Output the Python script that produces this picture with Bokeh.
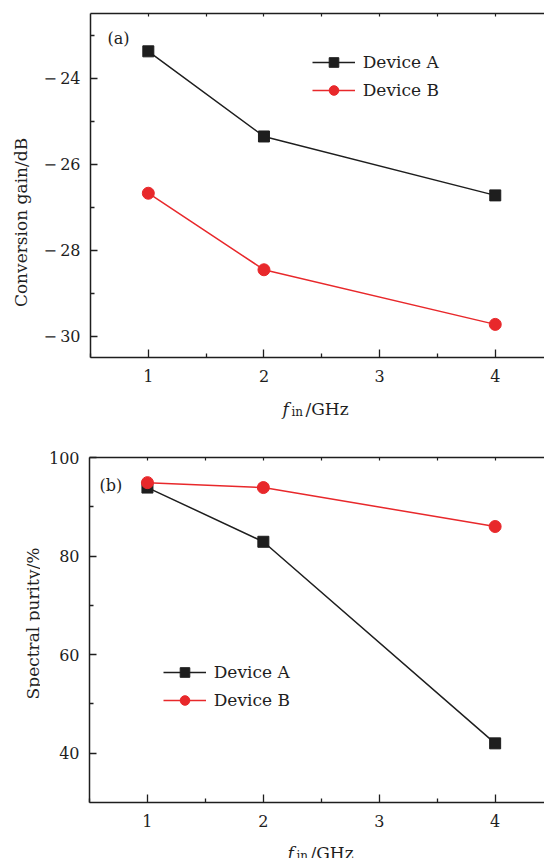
import math
from bokeh.plotting import figure
from bokeh.models import Range1d, FixedTicker, LinearAxis, Label, Legend, LegendItem
from bokeh.layouts import column, row
from bokeh.embed import file_html
from bokeh.resources import INLINE

# ---------------- data ----------------
freq_ghz = [1, 2, 4]
gain_a = [-23.38, -25.36, -26.73]
gain_b = [-26.68, -28.46, -29.73]
purity_a = [93.9, 82.9, 42.0]
purity_b = [94.9, 93.9, 86.0]
series_names = ["Device A", "Device B"]
x_ticks = [1, 2, 3, 4]
x_tick_labels = ["1", "2", "3", "4"]
gain_ticks = [-30, -28, -26, -24]
gain_tick_labels = ["\u2212\u200930", "\u2212\u200928", "\u2212\u200926", "\u2212\u200924"]
purity_ticks = [40, 60, 80, 100]
purity_tick_labels = ["40", "60", "80", "100"]
panel_tags = ["(a)", "(b)"]
y_titles = ["Conversion gain/dB", "Spectral purity/%"]
x_title_parts = ["f", "in", "/GHz"]

# ---------------- style ----------------
FONT = "DejaVu Serif"
INK = "#1e1e1e"
RED = "#e8282b"
W = 544
STRIP = 40           # width of the strip that carries the y title
LEFT = 89            # x pixel of the left spine
FRAME_W = W - LEFT
PX_PER_X = 115.9
X0 = 0.5
X1 = X0 + FRAME_W / PX_PER_X


def make_panel(height, top, frame_h, y0, y1, yticks, yminor, ylabels,
               ya, yb, tag, tag_px, legend_px):
    bottom = height - top - frame_h
    p = figure(width=W - STRIP, height=height, x_range=Range1d(X0, X1), y_range=Range1d(y0, y1),
               min_border_left=LEFT - STRIP, min_border_right=0, min_border_top=top,
               min_border_bottom=bottom, output_backend="svg", toolbar_location=None,
               title=None)
    p.outline_line_color = None
    p.grid.visible = False
    p.background_fill_color = "white"
    p.border_fill_color = "white"

    def px2x(px):
        return X0 + (px - LEFT) / PX_PER_X

    def py2y(py):
        return y1 - (py - top) / frame_h * (y1 - y0)

    xa = p.xaxis[0]
    xa.ticker = FixedTicker(ticks=x_ticks, minor_ticks=[0.5, 1.5, 2.5, 3.5, 4.5])
    xa.major_label_overrides = dict(zip(x_ticks, x_tick_labels))
    ya_ax = p.yaxis[0]
    ya_ax.ticker = FixedTicker(ticks=yticks, minor_ticks=yminor)
    ya_ax.major_label_overrides = dict(zip(yticks, ylabels))
    for ax in (xa, ya_ax):
        ax.axis_line_color = INK
        ax.axis_line_width = 1.5
        ax.major_tick_line_color = INK
        ax.minor_tick_line_color = INK
        ax.major_tick_line_width = 1.3
        ax.minor_tick_line_width = 1.3
        ax.major_tick_out = 0
        ax.minor_tick_out = 0
        ax.major_label_text_font = FONT
        ax.major_label_text_font_size = "16px"
        ax.major_label_text_color = INK
    xa.major_tick_in = 8
    xa.minor_tick_in = 4
    xa.major_label_standoff = 12
    ya_ax.major_tick_in = 7
    ya_ax.minor_tick_in = 4
    ya_ax.major_label_standoff = 10

    topax = LinearAxis(ticker=FixedTicker(ticks=[], minor_ticks=[1, 1.5, 2, 2.5, 3, 3.5, 4]),
                       major_tick_in=0, major_tick_out=0, minor_tick_in=3, minor_tick_out=0,
                       axis_line_color=INK, axis_line_width=1.5,
                       minor_tick_line_color=INK, minor_tick_line_width=1.2)
    p.add_layout(topax, "above")

    la = p.line(freq_ghz, ya, line_color=INK, line_width=1.5)
    sa = p.scatter(freq_ghz, ya, marker="square", size=11, fill_color=INK, line_color=INK)
    lb = p.line(freq_ghz, yb, line_color=RED, line_width=1.5)
    sb = p.scatter(freq_ghz, yb, marker="circle", size=12, fill_color=RED, line_color=RED)

    legend = Legend(items=[LegendItem(label=series_names[0], renderers=[la, sa]),
                           LegendItem(label=series_names[1], renderers=[lb, sb])],
                    location=(legend_px[0] - LEFT, top + frame_h - legend_px[1]),
                    glyph_width=43, glyph_height=24, spacing=4, padding=0, margin=0,
                    label_standoff=8, border_line_color=None, background_fill_alpha=0,
                    label_text_font=FONT, label_text_font_size="17px", label_text_color=INK)
    p.add_layout(legend)

    p.add_layout(Label(x=px2x(tag_px[0]), y=py2y(tag_px[1]), text=tag, text_font=FONT,
                       text_font_size="16px", text_color=INK, text_align="left",
                       text_baseline="middle"))
    return p


def make_ytitle(height, top, frame_h, text, center_px):
    bottom = height - top - frame_h
    s = figure(width=STRIP, height=height, x_range=Range1d(0, STRIP),
               y_range=Range1d(top + frame_h, top),
               min_border_left=0, min_border_right=0, min_border_top=top,
               min_border_bottom=bottom, x_axis_type=None, y_axis_type=None,
               output_backend="svg", toolbar_location=None, title=None)
    s.outline_line_color = None
    s.grid.visible = False
    s.add_layout(Label(x=center_px[0], y=center_px[1], text=text, angle=math.pi / 2,
                       text_font=FONT, text_font_size="17px", text_color=INK,
                       text_align="center", text_baseline="middle"))
    return s


def make_xtitle(height, left_px, baseline_px):
    s = figure(width=W, height=height, x_range=Range1d(LEFT, W), y_range=Range1d(height, 0),
               min_border_left=LEFT, min_border_right=0, min_border_top=0,
               min_border_bottom=0, x_axis_type=None, y_axis_type=None,
               output_backend="svg", toolbar_location=None, title=None)
    s.outline_line_color = None
    s.grid.visible = False
    s.add_layout(Label(x=left_px, y=baseline_px, text=x_title_parts[0], text_font=FONT,
                       text_font_style="italic", text_font_size="17px", text_color=INK,
                       text_baseline="alphabetic"))
    s.add_layout(Label(x=left_px + 9, y=baseline_px + 3, text=x_title_parts[1], text_font=FONT,
                       text_font_size="12px", text_color=INK, text_baseline="alphabetic"))
    s.add_layout(Label(x=left_px + 23, y=baseline_px, text=x_title_parts[2], text_font=FONT,
                       text_font_size="17px", text_color=INK, text_baseline="alphabetic"))
    return s


p1 = make_panel(392, 13, 344, -30.5, -22.5, gain_ticks, [-29, -27, -25, -23], gain_tick_labels,
                gain_a, gain_b, panel_tags[0], (106, 38), (310.7, 101.7))
y1s = make_ytitle(392, 13, 344, y_titles[0], (20.5, 222))
s1 = make_xtitle(38, 282, 408 - 392)
p2 = make_panel(405, 27, 345, 30, 100, purity_ticks, [50, 70, 90], purity_tick_labels,
                purity_a, purity_b, panel_tags[1], (99, 485 - 430), (162.7, 711.7 - 430))
y2s = make_ytitle(405, 27, 345, y_titles[1], (32, 623 - 430))
s2 = make_xtitle(23, 287, 852 - 835)

layout = column(row(y1s, p1, spacing=0), s1, row(y2s, p2, spacing=0), s2, spacing=0)
open("out.html", "w").write(file_html(layout, INLINE))
